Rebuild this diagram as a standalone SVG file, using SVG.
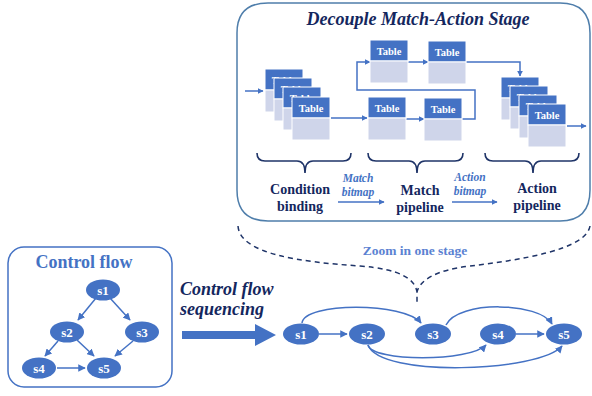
<svg xmlns="http://www.w3.org/2000/svg" xmlns:xlink="http://www.w3.org/1999/xlink" width="592" height="396" viewBox="0 0 592 396">
  <style>
    text { font-family: "Liberation Serif", "Times New Roman", serif; font-weight: bold; }
    .navy { fill: #14275e; }
    .blue { fill: #4472c4; }
    .light { fill: #5b82d2; }
    .tab-head { fill: #4472c4; stroke: #ffffff; stroke-width: 1; }
    .tab-body { fill: #cfd5ea; stroke: #ffffff; stroke-width: 1; }
    .tab-label { fill: #ffffff; font-size: 10.5px; text-anchor: middle; }
    .node { fill: #4472c4; }
    .node-label { fill: #ffffff; font-size: 13px; text-anchor: middle; }
    .edge { fill: none; stroke: #4472c4; stroke-width: 1.5; }
    .brace { fill: none; stroke: #1f3468; stroke-width: 1.6; }
    .label { font-size: 14px; text-anchor: middle; }
    .bitmap { font-size: 11.5px; font-style: italic; text-anchor: middle; }
  </style>
  <defs>
    <marker id="arr" viewBox="0 0 10 10" refX="9" refY="5" markerWidth="5" markerHeight="5" orient="auto" markerUnits="strokeWidth">
      <path d="M0,0 L10,5 L0,10 z" fill="#4472c4"/>
    </marker>
    <marker id="arr-s" viewBox="0 0 10 10" refX="9" refY="5" markerWidth="4" markerHeight="4" orient="auto" markerUnits="strokeWidth">
      <path d="M0,0 L10,5 L0,10 z" fill="#4472c4"/>
    </marker>
    <g id="table">
      <rect class="tab-head" x="0" y="0" width="38" height="21"/>
      <rect class="tab-body" x="0" y="21" width="38" height="22"/>
      <text class="tab-label" x="19" y="14.5">Table</text>
    </g>
  </defs>

  <!-- Decouple match-action stage panel -->
  <g id="stage-panel">
    <path d="M268,3 H560 Q590,3 590,33 V190 Q590,221 560,221 H268 Q237,221 237,190 V33 Q237,3 268,3 Z" fill="#ffffff" stroke="#4f7eab" stroke-width="1.5"/>
    <text class="navy" x="418" y="25" font-size="18" font-style="italic" text-anchor="middle">Decouple Match-Action Stage</text>
  </g>

  <!-- table connectors inside the stage -->
  <g id="table-connectors">
    <path class="edge" d="M245,91 H263" marker-end="url(#arr-s)"/>
    <path class="edge" d="M331,118 H367" marker-end="url(#arr-s)"/>
    <path class="edge" d="M406,119 H424" marker-end="url(#arr-s)"/>
    <path class="edge" d="M462,119 H475 V90 H357 V62 H370" marker-end="url(#arr-s)"/>
    <path class="edge" d="M408,62 H428" marker-end="url(#arr-s)"/>
    <path class="edge" d="M466,62 H520 V76" marker-end="url(#arr-s)"/>
    <path class="edge" d="M567,126 H586" marker-end="url(#arr-s)"/>
  </g>

  <!-- condition binding tables -->
  <g id="cond-tables">
    <use xlink:href="#table" x="265" y="69"/>
    <use xlink:href="#table" x="274" y="78"/>
    <use xlink:href="#table" x="283" y="87"/>
    <use xlink:href="#table" x="292" y="97"/>
  </g>
  <!-- match pipeline tables -->
  <g id="match-top-1"><use xlink:href="#table" x="370" y="40"/></g>
  <g id="match-top-2"><use xlink:href="#table" x="428" y="41"/></g>
  <g id="match-bot-1"><use xlink:href="#table" x="368" y="97"/></g>
  <g id="match-bot-2"><use xlink:href="#table" x="424" y="98"/></g>
  <!-- action pipeline tables -->
  <g id="action-tables">
    <use xlink:href="#table" x="501" y="77"/>
    <use xlink:href="#table" x="510" y="86"/>
    <use xlink:href="#table" x="519" y="95"/>
    <use xlink:href="#table" x="528" y="104"/>
  </g>

  <!-- braces under each group -->
  <g id="braces">
    <path class="brace" d="M257,153 Q257,161 265,161 H297 Q305,161 305,173 Q305,161 313,161 H343 Q351,161 351,153"/>
    <path class="brace" d="M368,153 Q368,161 376,161 H409 Q417,161 417,173 Q417,161 425,161 H455 Q463,161 463,153"/>
    <path class="brace" d="M485,153 Q485,161 493,161 H525 Q533,161 533,173 Q533,161 541,161 H571 Q579,161 579,153"/>
  </g>

  <!-- stage labels -->
  <g id="stage-labels">
    <text class="navy label" x="300" y="194">Condition</text>
    <text class="navy label" x="300" y="211">binding</text>
    <text class="navy label" x="420" y="195">Match</text>
    <text class="navy label" x="420" y="212">pipeline</text>
    <text class="navy label" x="537" y="193">Action</text>
    <text class="navy label" x="537" y="210">pipeline</text>
    <text class="blue bitmap" x="358" y="182">Match</text>
    <text class="blue bitmap" x="358" y="196">bitmap</text>
    <text class="blue bitmap" x="470" y="181">Action</text>
    <text class="blue bitmap" x="470" y="195">bitmap</text>
  </g>
  <g id="bitmap-arrows">
    <path class="edge" d="M338,202 H384" marker-end="url(#arr-s)" stroke-width="2"/>
    <path class="edge" d="M452,202 H497" marker-end="url(#arr-s)" stroke-width="2"/>
  </g>

  <!-- zoom callout -->
  <g id="zoom-callout">
    <path d="M238,226 C240,254 300,262 360,266 C400,269 415,279 417,292 M590,226 C586,250 520,260 470,266 C436,270 420,280 417,292 L417,303" fill="none" stroke="#1f3468" stroke-width="1.5" stroke-dasharray="5,4"/>
    <text class="light" x="415" y="255" font-size="13.5" text-anchor="middle">Zoom in one stage</text>
  </g>

  <!-- control flow graph -->
  <g id="control-flow-panel">
    <rect x="8" y="247" width="164" height="140" rx="16" fill="#ffffff" stroke="#4472c4" stroke-width="1.5"/>
    <text class="blue" x="84" y="268" font-size="18" text-anchor="middle">Control flow</text>
  </g>
  <g id="cf-connectors">
    <path class="edge" d="M96,298 L78,320" marker-end="url(#arr)"/>
    <path class="edge" d="M110,298 L130,320" marker-end="url(#arr)"/>
    <path class="edge" d="M58,341 L45,356" marker-end="url(#arr)"/>
    <path class="edge" d="M77,340 L94,356" marker-end="url(#arr)"/>
    <path class="edge" d="M133,341 L115,356" marker-end="url(#arr)"/>
    <path class="edge" d="M57,368 H85" marker-end="url(#arr)"/>
  </g>
  <g id="cf-s1"><ellipse class="node" cx="103" cy="290" rx="17" ry="10.5"/><text class="node-label" x="103" y="294.5">s1</text></g>
  <g id="cf-s2"><ellipse class="node" cx="67" cy="332" rx="17" ry="10.5"/><text class="node-label" x="67" y="336.5">s2</text></g>
  <g id="cf-s3"><ellipse class="node" cx="142" cy="332" rx="17" ry="10.5"/><text class="node-label" x="142" y="336.5">s3</text></g>
  <g id="cf-s4"><ellipse class="node" cx="39" cy="368" rx="17" ry="10.5"/><text class="node-label" x="39" y="372.5">s4</text></g>
  <g id="cf-s5"><ellipse class="node" cx="104" cy="368" rx="17" ry="10.5"/><text class="node-label" x="104" y="372.5">s5</text></g>

  <!-- sequencing arrow -->
  <g id="sequencing">
    <path d="M182,331 H255 V324 L276,335 L255,346 V339 H182 Z" fill="#4472c4"/>
    <text class="navy" x="180" y="295" font-size="18" font-style="italic">Control flow</text>
    <text class="navy" x="180" y="315" font-size="18" font-style="italic">sequencing</text>
  </g>

  <!-- sequenced pipeline -->
  <g id="seq-connectors">
    <path class="edge" d="M319,334 H347" marker-end="url(#arr)"/>
    <path class="edge" d="M302,323 C304,302 405,302 421,323" marker-end="url(#arr)"/>
    <path class="edge" d="M446,325 C458,300 540,302 552,324" marker-end="url(#arr)"/>
    <path class="edge" d="M516,334 H544" marker-end="url(#arr)"/>
    <path class="edge" d="M368,345 C372,362 470,362 486,345" marker-end="url(#arr)"/>
    <path class="edge" d="M368,345 C380,378 540,372 562,346" marker-end="url(#arr)"/>
  </g>
  <g id="seq-s1"><ellipse class="node" cx="301" cy="334" rx="18" ry="10.5"/><text class="node-label" x="301" y="338.5">s1</text></g>
  <g id="seq-s2"><ellipse class="node" cx="367" cy="334" rx="18" ry="10.5"/><text class="node-label" x="367" y="338.5">s2</text></g>
  <g id="seq-s3"><ellipse class="node" cx="433" cy="334" rx="18" ry="10.5"/><text class="node-label" x="433" y="338.5">s3</text></g>
  <g id="seq-s4"><ellipse class="node" cx="498" cy="334" rx="18" ry="10.5"/><text class="node-label" x="498" y="338.5">s4</text></g>
  <g id="seq-s5"><ellipse class="node" cx="564" cy="334" rx="18" ry="10.5"/><text class="node-label" x="564" y="338.5">s5</text></g>
</svg>
